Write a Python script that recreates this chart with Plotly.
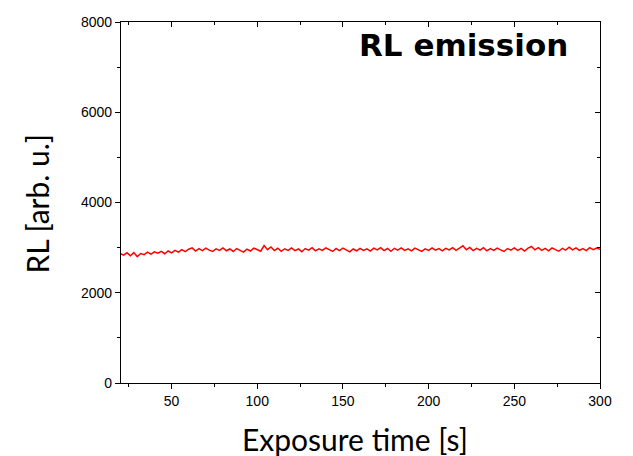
import plotly.graph_objects as go

time_s = list(range(20, 301, 2))
rl_values = [
    2870, 2835, 2885, 2820, 2890, 2800, 2870, 2845, 2900, 2855,
    2905, 2875, 2915, 2865, 2925, 2885, 2940, 2900, 2955, 2910,
    2965, 2995, 2925, 2980, 2935, 2990, 2945, 2915, 2975, 2940,
    2995, 2930, 2970, 2915, 2980, 2940, 2900, 2965, 2925, 2990,
    2950, 2920, 3045, 2955, 3015, 2935, 2985, 2920, 2975, 2940,
    2995, 2935, 2970, 2910, 2980, 2945, 3000, 2930, 2975, 2940,
    2995, 2950, 2915, 2980, 2935, 2990, 2945, 2905, 2970, 2930,
    2985, 2940, 2975, 2925, 2990, 2950, 3000, 2935, 2980, 2920,
    2985, 2945, 2995, 2940, 2975, 2930, 2990, 2950, 2915, 2975,
    2940, 2995, 2945, 2980, 2930, 2985, 2950, 3000, 2940, 2990,
    3040, 2955, 3005, 2935, 2985, 2945, 3000, 2930, 2980, 2940,
    2990, 2950, 2915, 2980, 2945, 2995, 2940, 2985, 2925, 2990,
    3025, 2950, 3000, 2940, 2985, 2930, 2995, 2955, 2920, 2985,
    2945, 3010, 2950, 2995, 2940, 2980, 2935, 3000, 2955, 2990,
    2965,
]
x_ticks = [50, 100, 150, 200, 250, 300]
y_ticks = [0, 2000, 4000, 6000, 8000]
x_range = [20.5, 300]
y_range = [0, 8000]

fig = go.Figure()
fig.add_trace(go.Scatter(x=time_s, y=rl_values, mode="lines",
                         line=dict(color="#ff0000", width=1.5), showlegend=False))
# invisible trace for mirrored axes
fig.add_trace(go.Scatter(x=[x_range[0]], y=[y_range[0]], xaxis="x2", yaxis="y2",
                         mode="markers", marker=dict(opacity=0), showlegend=False,
                         hoverinfo="skip"))

tickfont = dict(family="Liberation Sans, Arial, sans-serif", size=14, color="black")
common = dict(showgrid=False, zeroline=False, showline=True, linecolor="black",
              linewidth=1.3, tickcolor="black", tickwidth=1.3, automargin=False)
title_font = dict(family="Lato, Open Sans, sans-serif", size=30, color="black")

fig.update_layout(
    width=625, height=448,
    margin=dict(l=113, r=33, t=14, b=73),
    paper_bgcolor="white", plot_bgcolor="white",
    xaxis=dict(range=x_range, tickvals=x_ticks, ticks="outside", ticklen=5,
               minor=dict(dtick=25, tick0=0, ticks="outside", ticklen=3, tickcolor="black", tickwidth=1.3),
               tickfont=tickfont, **common),
    yaxis=dict(range=y_range, tickvals=y_ticks, ticks="outside", ticklen=5,
               minor=dict(dtick=1000, tick0=0, ticks="outside", ticklen=3, tickcolor="black", tickwidth=1.3),
               tickfont=tickfont, **common),
    xaxis2=dict(range=x_range, overlaying="x", side="top", tickvals=x_ticks, ticks="inside",
                ticklen=5, showticklabels=False,
                minor=dict(dtick=25, tick0=0, ticks="inside", ticklen=3, tickcolor="black", tickwidth=1.3),
                **common),
    yaxis2=dict(range=y_range, overlaying="y", side="right", tickvals=y_ticks, ticks="inside",
                ticklen=5, showticklabels=False,
                minor=dict(dtick=1000, tick0=0, ticks="inside", ticklen=3, tickcolor="black", tickwidth=1.3),
                **common),
    annotations=[
        dict(text="<b>RL emission</b>", x=282.5, y=7500, xref="x", yref="y",
             xanchor="right", yanchor="middle", showarrow=False,
             font=dict(family="DejaVu Sans, sans-serif", size=31, color="black")),
        dict(text="Exposure time [s]", x=0.4875, y=0, xref="paper", yref="paper",
             xanchor="center", yanchor="top", yshift=-36, showarrow=False, font=title_font),
        dict(text="RL [arb. u.]", x=0, y=0.497, xref="paper", yref="paper", textangle=-90,
             xanchor="center", yanchor="middle", xshift=-84, showarrow=False, font=title_font),
    ],
)

fig.write_html("out.html")
